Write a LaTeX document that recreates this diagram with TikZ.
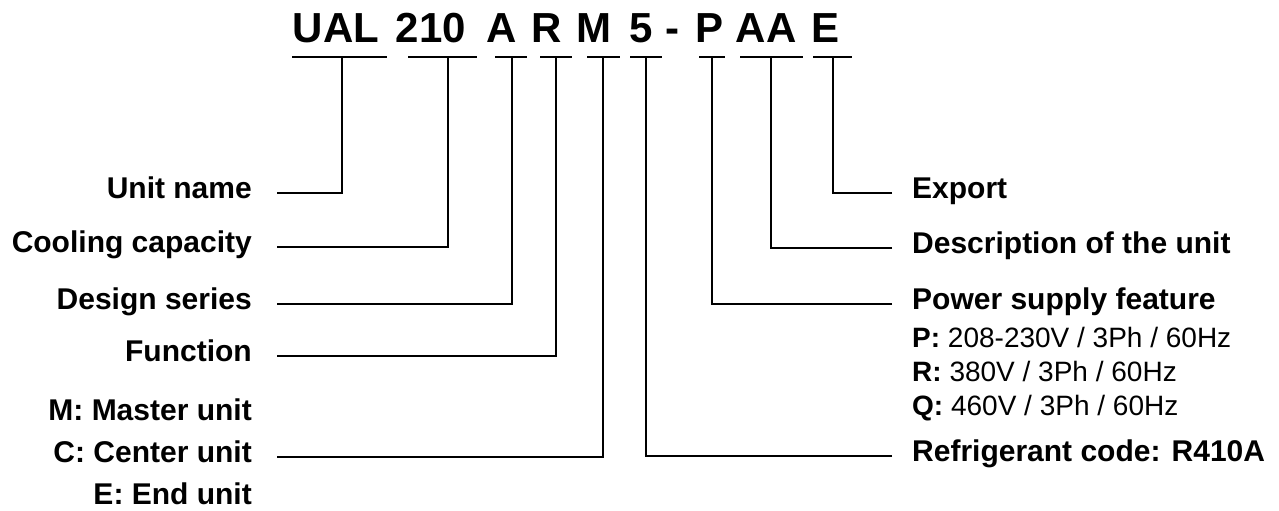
\documentclass[tikz,border=0pt]{standalone}
\usepackage{fontspec}
\setmainfont{Liberation Sans}
\usetikzlibrary{positioning}

\begin{document}
\begin{tikzpicture}[
  x=1pt, y=-1pt,
  code/.style = {anchor=base, inner sep=0pt, font=\fontsize{42}{50}\selectfont\bfseries},
  lbl/.style  = {anchor=base east, inner sep=0pt, font=\fontsize{30}{36}\selectfont\bfseries},
  rlbl/.style = {anchor=base west, inner sep=0pt, font=\fontsize{30}{36}\selectfont\bfseries},
  opt/.style  = {anchor=base west, inner sep=0pt, font=\fontsize{28}{34}\selectfont},
  conn/.style = {line width=1.2pt}
]
  \useasboundingbox (0,0) rectangle (1279,511);

  % model code groups, each with its underline and tick point
  \foreach \name/\txt/\cx/\ul/\ur/\tx in {UAL/UAL/336/292/387/342, cap/210/431/408/477/448,
      A/A/502/495/527/512, R/R/547/540/572/556, M/M/594/587/620/603, 5/5/641/630/662/646,
      P/P/709/699/725/712, AA/AA/766/740/803/771, E/E/825/813/852/833} {
    \node[code] (c\name) at (\cx,43) {\txt};
    \draw[conn] (\ul,57) -- (\ur,57);
    \coordinate (t\name) at (\tx,57);
  }
  \node[code] (dash) at (672,43) {-};

  % left labels
  \node[lbl] (uname) at (252,198) {Unit name};
  \node[lbl] (ccap)  at (252,252) {Cooling capacity};
  \node[lbl] (dser)  at (252,309) {Design series};
  \node[lbl] (func)  at (252,361) {Function};
  \node[lbl] (mst)   at (252,420) {M: Master unit};
  \node[lbl] (ctr)   at (252,462) {C: Center unit};
  \node[lbl] (endu)  at (252,504) {E: End unit};

  % right labels
  \node[rlbl] (expo) at (912,198) {Export};
  \node[rlbl] (desc) at (912,253) {Description of the unit};
  \node[rlbl] (pwr)  at (912,309) {Power supply feature};
  \node[opt]  (pP)   at (912,347) {\textbf{P:} 208-230V / 3Ph / 60Hz};
  \node[opt]  (pR)   at (912,381) {\textbf{R:} 380V / 3Ph / 60Hz};
  \node[opt]  (pQ)   at (912,415) {\textbf{Q:} 460V / 3Ph / 60Hz};
  \node[rlbl] (refr) at (912,461) {Refrigerant code: R410A};

  \draw[conn] (uname.base east) ++(25,-5) -| (tUAL);
  \draw[conn] (ccap.base east)  ++(25,-5) -| (tcap);
  \draw[conn] (dser.base east)  ++(25,-5) -| (tA);
  \draw[conn] (func.base east)  ++(25,-5) -| (tR);
  \draw[conn] (ctr.base east)   ++(25,-5) -| (tM);
  \draw[conn] (expo.base west)  ++(-20,-5) -| (tE);
  \draw[conn] (desc.base west)  ++(-20,-5) -| (tAA);
  \draw[conn] (pwr.base west)   ++(-20,-5) -| (tP);
  \draw[conn] (refr.base west)  ++(-20,-5) -| (t5);
\end{tikzpicture}
\end{document}
